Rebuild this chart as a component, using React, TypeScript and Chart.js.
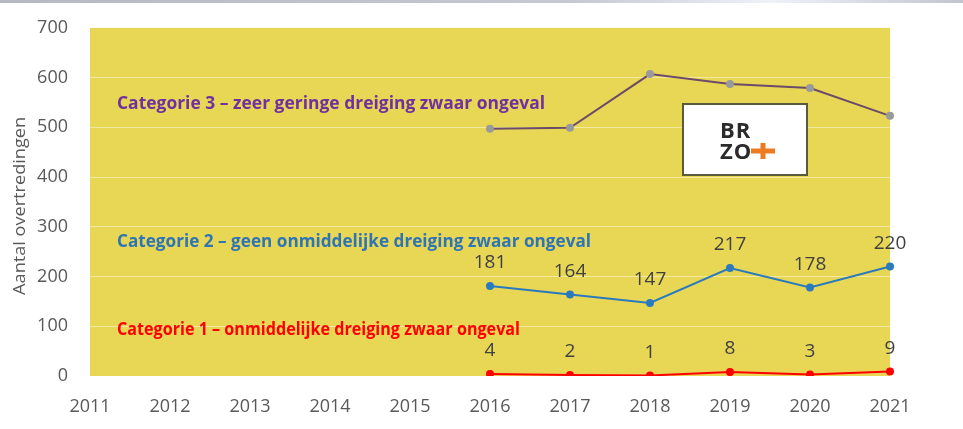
import React, { useEffect, useRef } from "react";
import { Chart, registerables } from "chart.js";

Chart.register(...registerables);

const years = ["2011", "2012", "2013", "2014", "2015", "2016", "2017", "2018", "2019", "2020", "2021"];
const cat1 = [null, null, null, null, null, 4, 2, 1, 8, 3, 9];
const cat2 = [null, null, null, null, null, 181, 164, 147, 217, 178, 220];
const cat3 = [null, null, null, null, null, 497, 499, 607, 587, 579, 523];
const yTicks = [0, 100, 200, 300, 400, 500, 600, 700];

const cat1Label = "Categorie 1 \u2013 onmiddelijke dreiging zwaar ongeval";
const cat2Label = "Categorie 2 \u2013 geen onmiddelijke dreiging zwaar ongeval";
const cat3Label = "Categorie 3 \u2013 zeer geringe dreiging zwaar ongeval";
const yTitle = "Aantal overtredingen";

const YELLOW = "#E8D655";
const TICK = "#595959";
const SHIFT = 5; // canvas is placed 5px higher on the page

const bgPlugin = {
  id: "bgPlugin",
  beforeDraw(chart: any) {
    const { ctx, chartArea } = chart;
    ctx.save();
    ctx.fillStyle = YELLOW;
    ctx.fillRect(chartArea.left, chartArea.top, chartArea.right - chartArea.left, chartArea.bottom - chartArea.top);
    ctx.restore();
  },
};

function fitText(ctx: CanvasRenderingContext2D, text: string, x: number, y: number, targetW: number) {
  const w = ctx.measureText(text).width;
  ctx.save();
  ctx.translate(x, y);
  ctx.scale(targetW / w, 1);
  ctx.fillText(text, 0, 0);
  ctx.restore();
}

const labelPlugin = {
  id: "labelPlugin",
  afterDatasetsDraw(chart: any) {
    const { ctx, chartArea } = chart;
    ctx.save();
    ctx.font = "19px 'Open Sans'";
    ctx.fillStyle = "#404040";
    ctx.textAlign = "center";
    ctx.textBaseline = "middle";
    chart.data.datasets.forEach((ds: any, i: number) => {
      if (!ds.showValues) return;
      const meta = chart.getDatasetMeta(i);
      meta.data.forEach((pt: any, j: number) => {
        const v = ds.data[j];
        if (v === null || v === undefined) return;
        ctx.fillText(String(v), pt.x, pt.y - 23);
      });
    });

    // category annotations
    const ys = chart.scales.y;
    const left = chartArea.left + 27;
    ctx.textAlign = "left";
    ctx.font = "bold 17.6px 'Open Sans'";
    const notes: [string, string, number, number][] = [
      [cat3Label, "#7030A0", 547, 428],
      [cat2Label, "#2E75B6", 270, 474],
      [cat1Label, "#FF0000", 93, 403],
    ];
    notes.forEach(([t, c, v, w]) => {
      ctx.fillStyle = c;
      fitText(ctx, t, left, ys.getPixelForValue(v), w);
    });

    // y-axis title, stretched to the reference length
    ctx.save();
    ctx.font = "16px 'Open Sans'";
    ctx.fillStyle = TICK;
    ctx.textAlign = "center";
    ctx.textBaseline = "middle";
    const w = ctx.measureText(yTitle).width;
    ctx.translate(20, (chartArea.top + chartArea.bottom) / 2 + 4);
    ctx.rotate(-Math.PI / 2);
    ctx.scale(178 / w, 1);
    ctx.fillText(yTitle, 0, 0);
    ctx.restore();

    // logo
    const bx = 683, by = 104 + SHIFT, bw = 124, bh = 71;
    ctx.fillStyle = "#ffffff";
    ctx.fillRect(bx, by, bw, bh);
    ctx.strokeStyle = "#5a5a3c";
    ctx.lineWidth = 2;
    ctx.strokeRect(bx, by, bw, bh);
    ctx.fillStyle = "#2b2b2b";
    ctx.font = "bold 22px 'Open Sans'";
    ctx.textAlign = "left";
    ctx.textBaseline = "alphabetic";
    (ctx as any).letterSpacing = "1px";
    ctx.fillText("BR", 720, 138 + SHIFT);
    ctx.fillText("ZO", 720, 159 + SHIFT);
    ctx.fillStyle = "#EE7A22";
    ctx.fillRect(751, 148.5 + SHIFT, 24, 5);
    ctx.fillRect(760.5, 143 + SHIFT, 5, 16);
    ctx.restore();
  },
};

export default function App() {
  const ref = useRef<HTMLCanvasElement>(null);
  useEffect(() => {
    if (!ref.current) return;
    const chart = new Chart(ref.current, {
      type: "line",
      data: {
        labels: years,
        datasets: [
          {
            label: cat3Label,
            data: cat3,
            borderColor: "#6B4A6A",
            backgroundColor: "#9A9A9A",
            pointBackgroundColor: "#9A9A9A",
            pointBorderColor: "#9A9A9A",
            borderWidth: 2,
            pointRadius: 3,
            showValues: false,
          } as any,
          {
            label: cat2Label,
            data: cat2,
            borderColor: "#2A7BBE",
            backgroundColor: "#2A7BBE",
            pointBackgroundColor: "#2A7BBE",
            pointBorderColor: "#2A7BBE",
            borderWidth: 2,
            pointRadius: 3,
            showValues: true,
          } as any,
          {
            label: cat1Label,
            data: cat1,
            borderColor: "#FF0000",
            backgroundColor: "#FF0000",
            pointBackgroundColor: "#FF0000",
            pointBorderColor: "#FF0000",
            borderWidth: 2,
            pointRadius: 3,
            showValues: true,
          } as any,
        ],
      },
      options: {
        animation: false,
        responsive: false,
        maintainAspectRatio: false,
        layout: { padding: { top: 18, right: 73, left: 0, bottom: 0 } },
        plugins: { legend: { display: false }, tooltip: { enabled: false } },
        scales: {
          x: {
            offset: false,
            grid: { display: false, drawTicks: false },
            border: { display: false },
            ticks: {
              color: TICK,
              font: { family: "'Open Sans'", size: 18 },
              padding: 20,
              maxRotation: 0,
              autoSkip: false,
            },
            afterFit(scale: any) {
              scale.height = 48;
            },
          },
          y: {
            min: 0,
            max: 700,
            afterBuildTicks(scale: any) {
              scale.ticks = yTicks.map((v) => ({ value: v }));
            },
            grid: { color: "rgba(255,255,255,0.45)", lineWidth: 1, drawTicks: false },
            border: { display: false },
            ticks: {
              color: TICK,
              font: { family: "'Open Sans'", size: 18 },
              padding: 22,
            },
            afterFit(scale: any) {
              scale.width = 90;
            },
          },
        },
      },
      plugins: [bgPlugin, labelPlugin],
    } as any);
    return () => chart.destroy();
  }, []);

  return (
    <div style={{ position: "fixed", left: 0, top: 0, width: 963, height: 429, background: "#fff", overflow: "hidden" }}>
      <canvas
        ref={ref}
        width={963}
        height={429}
        style={{ position: "absolute", left: 0, top: -SHIFT, width: 963, height: 429 }}
      />
      <div
        style={{
          position: "absolute",
          left: 0,
          top: 0,
          width: 963,
          height: 3,
          background: "linear-gradient(to right, #b8b8c4, #c8c8d2 60%, #eef2f7 80%, #c4c4ce)",
        }}
      />
    </div>
  );
}
